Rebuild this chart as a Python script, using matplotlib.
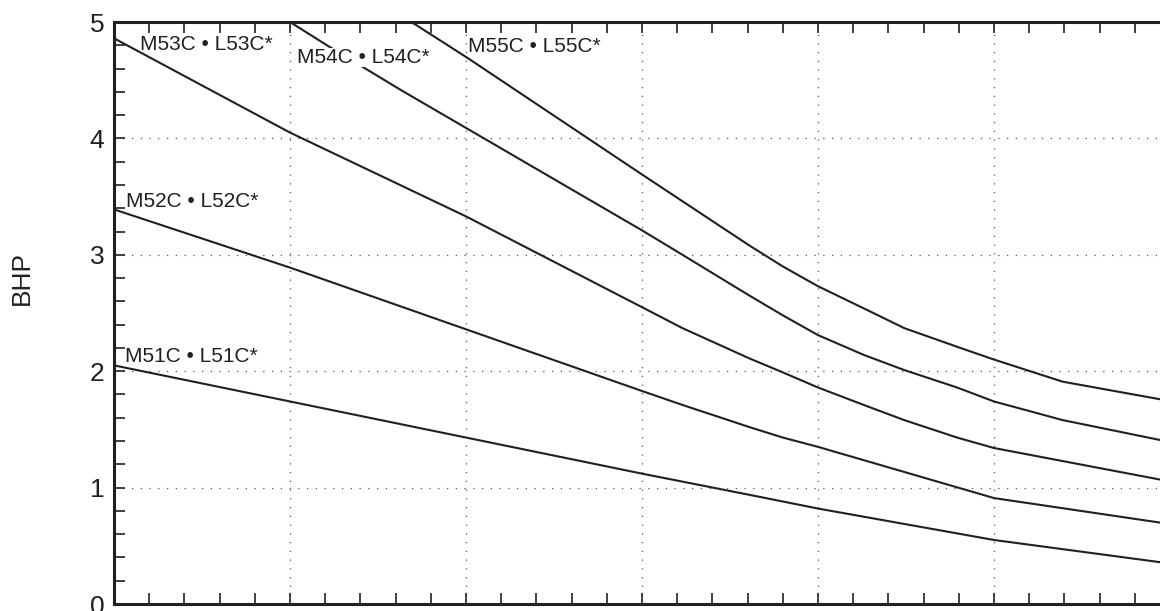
import numpy as np
from matplotlib import pyplot as plt
from matplotlib.ticker import MultipleLocator, NullFormatter

plt.rcParams['font.family'] = ['Liberation Sans', 'DejaVu Sans']

# curves (x in major-grid units, y in BHP)
x_51 = [0, 1, 2, 3, 3.67, 4, 5, 5.94]
y_51 = [2.05, 1.74, 1.43, 1.12, 0.92, 0.82, 0.55, 0.36]

x_52 = [0, 1, 2, 3, 3.23, 3.61, 3.80, 4, 5, 5.94]
y_52 = [3.39, 2.89, 2.36, 1.83, 1.71, 1.52, 1.43, 1.35, 0.91, 0.70]

x_53 = [0, 1, 2, 3, 3.23, 3.61, 3.80, 4, 4.26, 4.49, 4.79, 5, 5.94]
y_53 = [4.86, 4.05, 3.33, 2.55, 2.37, 2.11, 1.99, 1.86, 1.71, 1.58, 1.43, 1.34, 1.07]

x_54 = [1, 1.21, 1.625, 2, 3, 3.23, 3.61, 3.80, 4, 4.26, 4.49, 4.79, 5, 5.39, 5.94]
y_54 = [5.0, 4.80, 4.42, 4.09, 3.21, 3.00, 2.65, 2.48, 2.31, 2.14, 2.01, 1.86, 1.74, 1.58, 1.41]

x_55 = [1.69, 2.01, 3, 3.23, 3.43, 3.61, 3.80, 4, 4.26, 4.49, 4.79, 5, 5.39, 5.94]
y_55 = [5.0, 4.69, 3.69, 3.46, 3.26, 3.08, 2.90, 2.73, 2.54, 2.37, 2.21, 2.10, 1.91, 1.76]

curves = [(x_51, y_51), (x_52, y_52), (x_53, y_53), (x_54, y_54), (x_55, y_55)]

labels = ['M51C • L51C*', 'M52C • L52C*', 'M53C • L53C*', 'M54C • L54C*', 'M55C • L55C*']
label_x = [0.062, 0.068, 0.148, 1.04, 2.01]
label_y = [2.08, 3.41, 4.76, 4.65, 4.74]

ink = '#231f20'

fig = plt.figure(figsize=(11.6, 6.11), dpi=100)
ax = fig.add_axes([114/1160, 7/611, 1056/1160, 582/611])

for xs, ys in curves:
    ax.plot(xs, ys, color=ink, lw=1.5, zorder=3)

for i, txt in enumerate(labels):
    t = ax.text(label_x[i], label_y[i], txt, fontsize=15, color=ink,
                ha='left', va='baseline', zorder=4)
    if i == 3:
        t.set_bbox(dict(facecolor='white', edgecolor='none', pad=0))

ax.set_xlim(0, 6)
ax.set_ylim(0, 5)
ax.xaxis.set_major_locator(MultipleLocator(1))
ax.xaxis.set_minor_locator(MultipleLocator(0.2))
ax.yaxis.set_major_locator(MultipleLocator(1))
ax.yaxis.set_minor_locator(MultipleLocator(0.2))
ax.xaxis.set_major_formatter(NullFormatter())

ax.grid(True, which='major', color='#555555', lw=0.9, linestyle=(0, (1, 6)))
ax.set_axisbelow(True)

ax.tick_params(which='both', direction='in', length=8, width=1.2, color=ink,
               top=True, bottom=True, left=True, right=False,
               labelbottom=False)
ax.tick_params(axis='y', which='major', labelsize=19, pad=7, labelcolor=ink)

for side in ['left', 'top', 'bottom']:
    ax.spines[side].set_linewidth(2.2)
    ax.spines[side].set_color(ink)
ax.spines['right'].set_visible(False)

fig.text(22/1160, 1 - 278/611, 'BHP', fontsize=19, color=ink,
         rotation=90, ha='center', va='center')

plt.savefig('out.png', dpi=100)
